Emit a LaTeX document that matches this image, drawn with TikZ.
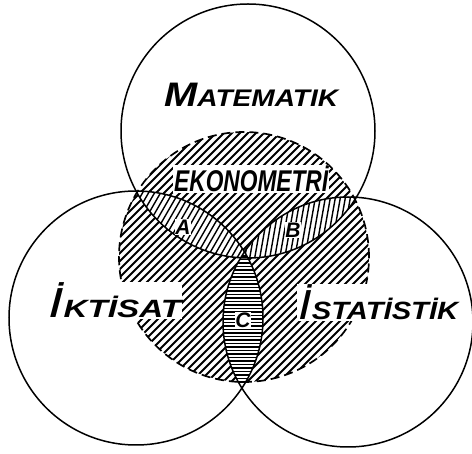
\documentclass[tikz,border=0pt]{standalone}
\usepackage{fontspec}
\setmainfont{Liberation Sans}
\usepackage{graphicx}
\tikzset{
  circ/.style={line width=1.5pt},
  hatchline/.style={line width=1.8pt},
  thinhatch/.style={line width=1.4pt},
  word/.style={inner sep=1pt, fill=white, font=\bfseries\itshape},
  lbl/.style={inner sep=0.8pt, fill=white, font=\fontsize{21}{21}\selectfont\bfseries\itshape}
}
\begin{document}
\begin{tikzpicture}[x=1pt,y=-1pt]
\useasboundingbox (0,0) rectangle (472,454);
\coordinate (T) at (248,131);
\coordinate (L) at (136,318);
\coordinate (R) at (348,322);
\coordinate (E) at (244,257);
% main hatching of Ekonometri
\begin{scope}
  \clip (E) circle[radius=125pt];
  \foreach \k in {-184,-176,...,184}
    \draw[hatchline] ({244+\k-150},{257+150}) -- ({244+\k+150},{257-150});
\end{scope}
% lens A
\begin{scope}
  \clip (T) circle[radius=127pt];
  \clip (L) circle[radius=127pt];
  \clip (E) circle[radius=126pt];
  \fill[white] (E) circle[radius=126pt];
  \foreach \k in {-126,-120,...,126}
    \draw[thinhatch] ({190+\k-80},{225+138.6}) -- ({190+\k+80},{225-138.6});
\end{scope}
% lens B
\begin{scope}
  \clip (T) circle[radius=127pt];
  \clip (R) circle[radius=125pt];
  \clip (E) circle[radius=126pt];
  \fill[white] (E) circle[radius=126pt];
  \foreach \k in {-90,-85,...,90}
    \draw[thinhatch] ({300+\k-15},{228+85}) -- ({300+\k+15},{228-85});
\end{scope}
% lens C
\begin{scope}
  \clip (L) circle[radius=127pt];
  \clip (R) circle[radius=125pt];
  \clip (E) circle[radius=126pt];
  \fill[white] (E) circle[radius=126pt];
  \foreach \y in {256,259.5,...,392}
    \draw[line width=1.3pt] (200,\y) -- (290,\y);
\end{scope}
% circles
\draw[circ] (T) circle[radius=127pt];
\draw[circ] (L) circle[radius=127pt];
\draw[circ] (R) circle[radius=125pt];
\draw[line width=1.7pt, dash pattern=on 9pt off 5pt] (E) circle[radius=125pt];
% texts
\node[word, anchor=base west] (mat) at (163,107)
  {\resizebox{174pt}{\height}{{\fontsize{34}{34}\selectfont M}{\fontsize{24}{24}\selectfont ATEMATIK}}};
\node[word, anchor=base west] (eko) at (173,192)
  {\resizebox{154pt}{\height}{\fontsize{30}{30}\selectfont EKONOMETRİ}};
\node[word, anchor=base west] (ikt) at (47,318)
  {\resizebox{133pt}{\height}{{\fontsize{42}{42}\selectfont\mdseries İ}{\fontsize{25}{25}\selectfont KTİSAT}}};
\node[word, anchor=base west] (ist) at (297,320)
  {\resizebox{160pt}{\height}{{\fontsize{42}{42}\selectfont\mdseries İ}{\fontsize{25}{25}\selectfont STATİSTİK}}};
\node[lbl] (la) at (183,227) {A};
\node[lbl] (lb) at (293,230) {B};
\node[lbl] (lc) at (243,320) {C};
\end{tikzpicture}
\end{document}
